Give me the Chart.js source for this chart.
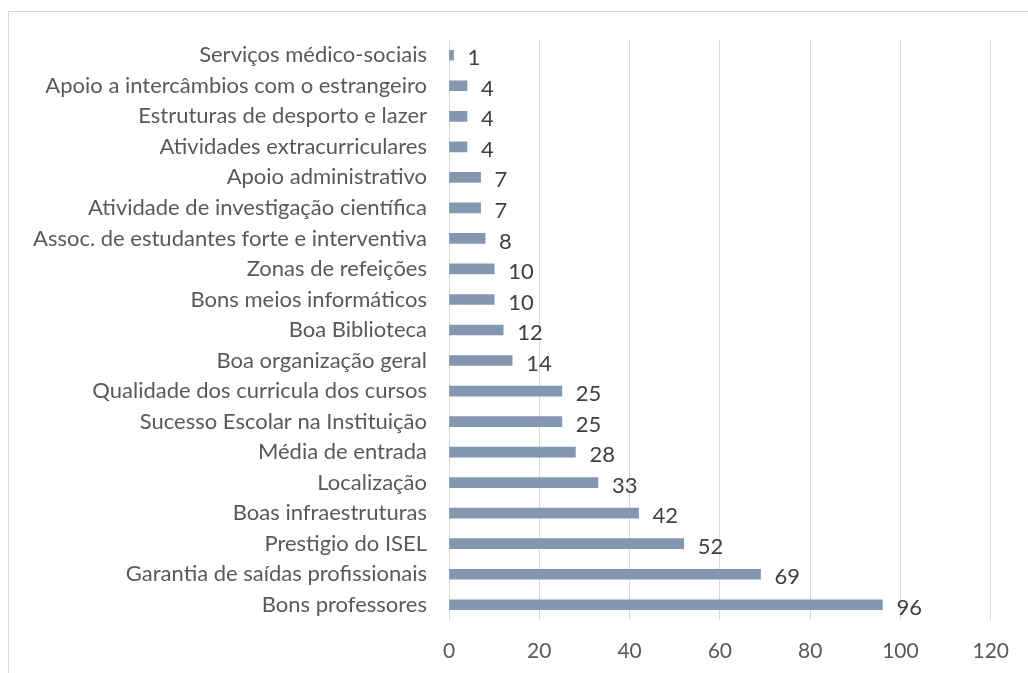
<!DOCTYPE html>
<html>
<head>
<meta charset="utf-8">
<script src="https://cdn.jsdelivr.net/npm/chart.js@4/dist/chart.umd.min.js"></script>
<style>
    html, body { margin: 0; padding: 0; background: #fff; overflow: hidden; }
    #frame { position: absolute; left: 8px; top: 11px; width: 1040px; height: 700px; border: 1px solid #D9D9D9; }
    #wrap { position: absolute; left: 0; top: 0; width: 1028px; height: 673px; }
</style>
</head>
<body>
<div id="frame"></div>
<div id="wrap"><canvas id="chart"></canvas></div>
<script>
const categories = [
    'Serviços médico-sociais',
    'Apoio a intercâmbios com o estrangeiro',
    'Estruturas de desporto e lazer',
    'Atividades extracurriculares',
    'Apoio administrativo',
    'Atividade de investigação científica',
    'Assoc. de estudantes forte e interventiva',
    'Zonas de refeições',
    'Bons meios informáticos',
    'Boa Biblioteca',
    'Boa organização geral',
    'Qualidade dos curricula dos cursos',
    'Sucesso Escolar na Instituição',
    'Média de entrada',
    'Localização',
    'Boas infraestruturas',
    'Prestigio do ISEL',
    'Garantia de saídas profissionais',
    'Bons professores'
];
const values = [1, 4, 4, 4, 7, 7, 8, 10, 10, 12, 14, 25, 25, 28, 33, 42, 52, 69, 96];
const xTicks = [0, 20, 40, 60, 80, 100, 120];

const fontFamily = 'Lato, "Open Sans", sans-serif';

// value labels drawn just after each bar end
const valueLabels = {
    id: 'valueLabels',
    afterDatasetsDraw(chart) {
        const ctx = chart.ctx;
        const meta = chart.getDatasetMeta(0);
        ctx.save();
        ctx.font = '22px ' + fontFamily;
        ctx.fillStyle = '#404040';
        ctx.textAlign = 'left';
        ctx.textBaseline = 'middle';
        meta.data.forEach(function(bar, i) {
            ctx.fillText(String(values[i]), bar.x + 14, bar.y + 3);
        });
        ctx.restore();
    }
};

new Chart(document.getElementById('chart'), {
    type: 'bar',
    data: {
        labels: categories,
        datasets: [{
            data: values,
            backgroundColor: '#8497B0',
            borderWidth: 0,
            barThickness: 10
        }]
    },
    options: {
        indexAxis: 'y',
        responsive: true,
        maintainAspectRatio: false,
        animation: false,
        layout: { padding: { top: 40, right: 35, left: 0, bottom: 0 } },
        plugins: {
            legend: { display: false },
            tooltip: { enabled: false }
        },
        scales: {
            x: {
                min: 0,
                max: 120,
                afterBuildTicks(scale) {
                    scale.ticks = xTicks.map(v => ({ value: v }));
                },
                afterFit(scale) { scale.height = 53; },
                grid: { color: '#D9D9D9', drawTicks: false },
                border: { display: false },
                ticks: {
                    padding: 19,
                    color: '#595959',
                    font: { family: fontFamily, size: 21 }
                }
            },
            y: {
                afterFit(scale) { scale.width = 449; },
                grid: { display: false, drawTicks: false },
                border: { display: false },
                ticks: {
                    padding: 22,
                    autoSkip: false,
                    color: '#595959',
                    font: { family: fontFamily, size: 22 }
                }
            }
        }
    },
    plugins: [valueLabels]
});
</script>
</body>
</html>
